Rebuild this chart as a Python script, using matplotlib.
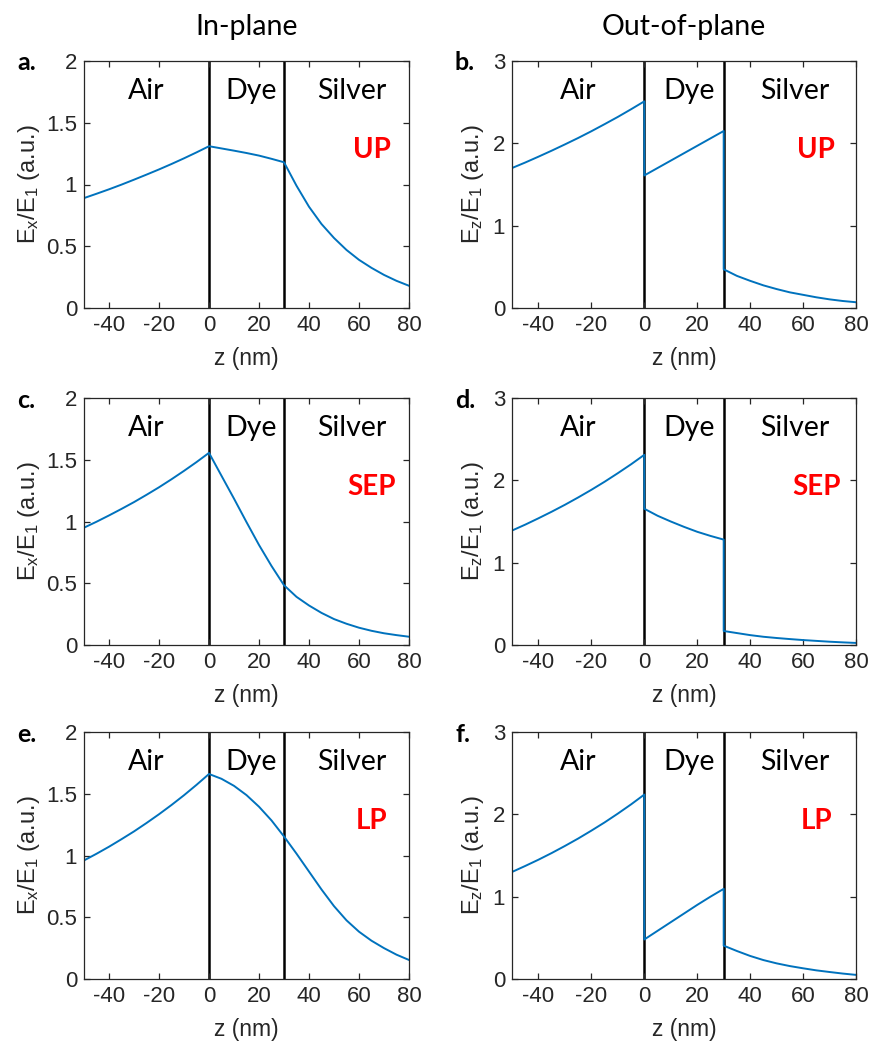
import matplotlib
matplotlib.use("Agg")
import matplotlib.pyplot as plt

plt.rcParams["mathtext.fontset"] = "custom"
plt.rcParams["mathtext.rm"] = "Liberation Sans"
plt.rcParams["mathtext.it"] = "Liberation Sans"
plt.rcParams["mathtext.default"] = "regular"

# z positions (nm) for each layer
z_air = [-50, -45, -40, -35, -30, -25, -20, -15, -10, -5, 0]
z_dye = [0, 5, 10, 15, 20, 25, 30]
z_ag = [30, 35, 40, 45, 50, 55, 60, 65, 70, 75, 80]

# in-plane field, Ex/E1
ex_up_air = [0.89, 0.925, 0.961, 0.999, 1.039, 1.080, 1.122, 1.166, 1.212, 1.260, 1.31]
ex_up_dye = [1.31, 1.292, 1.274, 1.255, 1.234, 1.208, 1.18]
ex_up_ag = [1.18, 0.99, 0.82, 0.68, 0.567, 0.47, 0.39, 0.325, 0.268, 0.22, 0.18]

ex_sep_air = [0.95, 0.998, 1.049, 1.102, 1.157, 1.216, 1.277, 1.342, 1.410, 1.481, 1.556]
ex_sep_dye = [1.556, 1.37, 1.185, 0.995, 0.81, 0.64, 0.484]
ex_sep_ag = [0.484, 0.39, 0.32, 0.26, 0.21, 0.172, 0.14, 0.115, 0.095, 0.08, 0.067]

ex_lp_air = [0.96, 1.014, 1.071, 1.132, 1.195, 1.263, 1.334, 1.409, 1.488, 1.572, 1.66]
ex_lp_dye = [1.66, 1.621, 1.564, 1.489, 1.395, 1.284, 1.154]
ex_lp_ag = [1.154, 1.015, 0.87, 0.725, 0.59, 0.475, 0.383, 0.31, 0.25, 0.197, 0.154]

# out-of-plane field, Ez/E1
ez_up_air = [1.70, 1.767, 1.838, 1.911, 1.987, 2.065, 2.147, 2.233, 2.321, 2.414, 2.51]
ez_up_dye = [1.61, 1.70, 1.79, 1.88, 1.97, 2.06, 2.15]
ez_up_ag = [0.47, 0.39, 0.33, 0.275, 0.23, 0.19, 0.16, 0.13, 0.105, 0.085, 0.07]

ez_sep_air = [1.39, 1.462, 1.539, 1.619, 1.703, 1.792, 1.885, 1.983, 2.087, 2.195, 2.31]
ez_sep_dye = [1.655, 1.57, 1.50, 1.435, 1.375, 1.325, 1.28]
ez_sep_ag = [0.17, 0.145, 0.12, 0.10, 0.085, 0.072, 0.06, 0.05, 0.04, 0.032, 0.025]

ez_lp_air = [1.30, 1.373, 1.449, 1.530, 1.616, 1.706, 1.802, 1.902, 2.009, 2.121, 2.24]
ez_lp_dye = [0.48, 0.585, 0.69, 0.795, 0.90, 1.00, 1.095]
ez_lp_ag = [0.405, 0.34, 0.28, 0.23, 0.19, 0.157, 0.13, 0.105, 0.085, 0.066, 0.05]

xticks = [-40, -20, 0, 20, 40, 60, 80]
xticklabels = ["-40", "-20", "0", "20", "40", "60", "80"]
yticks_in = [0, 0.5, 1, 1.5, 2]
yticklabels_in = ["0", "0.5", "1", "1.5", "2"]
yticks_out = [0, 1, 2, 3]
yticklabels_out = ["0", "1", "2", "3"]

layers = ["Air", "Dye", "Silver"]
modes = ["UP", "SEP", "LP"]
letters = ["a.", "b.", "c.", "d.", "e.", "f."]
col_titles = ["In-plane", "Out-of-plane"]

blue = "#0072BD"
dark = "#262626"
label_font = "Lato"
tick_font = "Liberation Sans"

W, H = 869, 1045
fig = plt.figure(figsize=(W / 100, H / 100), dpi=100)

row_bottoms = [308, 645, 979]
col_lefts = [84, 512]
col_widths = [325, 344]
ax_h = 247


def draw_panel(ax, air, dye, ag, col, mode):
    z = z_air + z_dye + z_ag
    v = air + dye + ag
    ax.axvline(0, color="black", lw=1.8, zorder=1)
    ax.axvline(30, color="black", lw=1.8, zorder=1)
    ax.plot(z, v, color=blue, lw=1.4, zorder=2)

    ax.set_xlim(-50, 80)
    ax.set_xticks(xticks)
    ax.set_xticklabels(xticklabels)
    if col == 0:
        ax.set_ylim(0, 2)
        ax.set_yticks(yticks_in)
        ax.set_yticklabels(yticklabels_in)
        ax.set_ylabel("E$_{x}$/E$_{1}$ (a.u.)", fontsize=17,
                      family=tick_font, color=dark)
        ax.yaxis.set_label_coords(-0.13, 0.5)
    else:
        ax.set_ylim(0, 3)
        ax.set_yticks(yticks_out)
        ax.set_yticklabels(yticklabels_out)
        ax.set_ylabel("E$_{z}$/E$_{1}$ (a.u.)", fontsize=17,
                      family=tick_font, color=dark)
        ax.yaxis.set_label_coords(-0.075, 0.5)
    ax.set_xlabel("z (nm)", fontsize=16.5, family=tick_font, color=dark,
                  va="center")
    ax.xaxis.set_label_coords(0.5, -0.205)

    ax.tick_params(direction="in", top=True, right=True, length=4, width=0.9,
                   color=dark, labelcolor=dark, labelsize=16)
    ax.tick_params(axis="x", pad=5)
    ax.tick_params(axis="y", pad=5)
    for lab in ax.get_xticklabels() + ax.get_yticklabels():
        lab.set_family(tick_font)
    for sp in ax.spines.values():
        sp.set_color(dark)
        sp.set_linewidth(0.9)

    for name, zc in zip(layers, [-25, 17, 57]):
        ax.text(zc, 0.88, name, transform=ax.get_xaxis_transform(),
                ha="center", va="center", fontsize=20.5, family=label_font)
    ax.text(65, 0.64, mode, transform=ax.get_xaxis_transform(),
            ha="center", va="center", fontsize=20, fontweight="bold",
            color="#FF0000", family=label_font)


data = [
    [(ex_up_air, ex_up_dye, ex_up_ag), (ez_up_air, ez_up_dye, ez_up_ag)],
    [(ex_sep_air, ex_sep_dye, ex_sep_ag), (ez_sep_air, ez_sep_dye, ez_sep_ag)],
    [(ex_lp_air, ex_lp_dye, ex_lp_ag), (ez_lp_air, ez_lp_dye, ez_lp_ag)],
]

for r in range(3):
    for c in range(2):
        rect = [col_lefts[c] / W, 1 - row_bottoms[r] / H, col_widths[c] / W, ax_h / H]
        ax = fig.add_axes(rect)
        air, dye, ag = data[r][c]
        draw_panel(ax, air, dye, ag, c, modes[r])
        top = (row_bottoms[r] - ax_h) / H
        lx = [17, 455][c]
        fig.text(lx / W, 1 - top - 2 / H, letters[2 * r + c], ha="left", va="center",
                 fontsize=18, fontweight="bold", family=label_font)

for c in range(2):
    cx = (col_lefts[c] + col_widths[c] / 2) / W
    fig.text(cx, 1 - 35 / H, col_titles[c], ha="center", va="baseline",
             fontsize=20.5, family=label_font)

fig.savefig("out.png", dpi=100)
